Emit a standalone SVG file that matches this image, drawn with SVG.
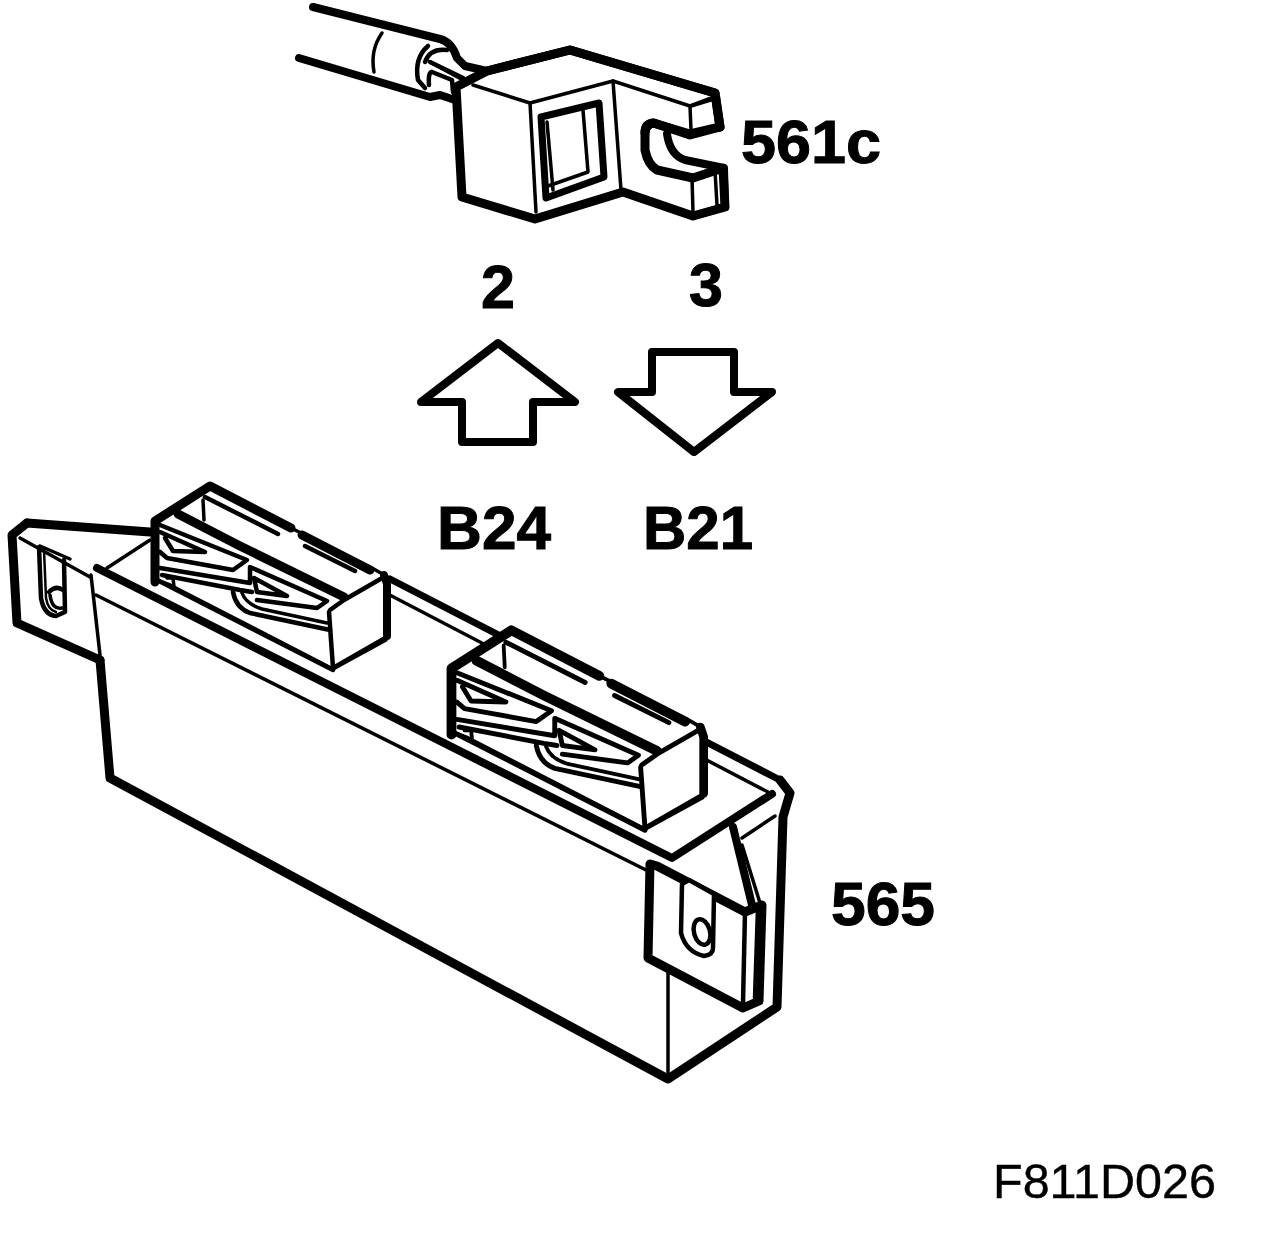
<svg xmlns="http://www.w3.org/2000/svg" width="1264" height="1234" viewBox="0 0 1264 1234">
<style>
.l{fill:none;stroke:#000;stroke-linejoin:round;stroke-linecap:round}
.w{fill:#fff;stroke:#000;stroke-linejoin:round;stroke-linecap:round}
.t2{stroke-width:2.5}.t3{stroke-width:3.5}.t4{stroke-width:4.5}.t6{stroke-width:7}.t7{stroke-width:8}.t8{stroke-width:9}
.lab{font-family:"Liberation Sans",Arial,sans-serif;font-weight:700;font-size:61px;fill:#000;stroke:#000;stroke-width:1}
.code{font-family:"Liberation Sans",Arial,sans-serif;font-size:48.5px;fill:#000;stroke:#000;stroke-width:.4}
</style>
<defs>
<g id="conn">
<path class="w t3" d="M157,522 L210,487 L293,529 L372,568 L386,576 L386,640 L333,669 L170,585 L157,580Z"/>
<path class="l t8" d="M155,582 L155,521 L210,486 L291,528"/>
<path class="l t8" d="M302,535 L370,570"/>
<path class="l t8" d="M178,514 L240,546 L344,597"/>
<path class="l t4" d="M330,610 L344,600 L384,577"/>
<path class="l t7" d="M384,575 L387,584 L387,636"/>
<path class="l t4" d="M205,497 L278,534 M305,546 L355,571"/>
<path class="l t3" d="M203,500 L204,520"/>
<path class="l t4" d="M329,612 L333,668 L387,637"/>
<path class="l t4" d="M157,580 L333,670"/>
<path class="l t4" d="M160,525 L247,560 L233,570 L167,558 L160,552"/>
<path class="l t4" d="M160,532 L205,552 L173,551 L165,538"/>
<path class="l t4" d="M160,568 L250,583 L250,567 L327,601 L317,608 L257,600"/>
<path class="l t4" d="M162,575 L240,590 L252,592"/>
<path class="l t4" d="M254,578 L287,596 L257,592Z"/>
<path class="l t4" d="M233,592 Q236,608 250,613 L330,630"/>
<path class="l t3" d="M242,593 Q246,604 262,609 L327,623"/>
<path class="l t3" d="M167,578 L173,578 L174,587"/>
</g>
</defs>
<g id="node-561c">
<path class="l t7" d="M313,7 L440,39 Q452,42 457,58 L465,66 L487,71"/>
<path class="l t7" d="M299,58 L430,97 L440,95 L455,100"/>
<path class="l t3" d="M382,33 Q370,50 374,72"/>
<path class="l t4" d="M428,46 Q414,58 418,80 L425,88"/>
<path class="l t4" d="M447,50 Q430,48 425,62 M430,62 L463,78 M432,72 Q428,72 429,85 M432,72 L452,80 L453,92"/>
<path class="l t3" d="M463,80 L430,62"/>
<path class="w t8" d="M487,71 L570,50 L715,93 L720,127 L690,134 L653,123 Q645,124 645,133 L645,150 Q648,165 657,170 L693,178 L723,168 L725,207 L693,216 L623,192 L535,219 L462,197 L456,87 Z"/>
<path class="w" style="stroke:none" d="M670,126 L688,134 L707,141 L678,160 Z"/>
<path class="w" style="stroke:none" d="M668,133 L725,132 L723,166 L690,160 Z"/>
<path class="l t8" d="M487,71 L570,50 L715,93 L720,127 L690,135 L654,123 Q645,124 645,133"/>
<path class="l t7" d="M667,134 Q670,155 685,160 L724,168 L725,207 L693,216"/>
<path class="l t3" d="M473,85 L530,103 L613,81 L690,106 L714,97"/>
<path class="l t3" d="M530,103 L536,212 M613,81 L621,190 M690,106 L691,130 M691,106 L714,99"/>
<path class="l t3" d="M646,130 Q646,165 657,170 L692,178 L693,212 M692,178 L715,171 L717,205"/>
<path class="l t6" d="M541,117 L599,103 L604,177 L546,198 Z"/>
<path class="l t3" d="M583,110 L588,172 L548,186"/>
<path class="l t3" d="M547,122 L553,190"/>
</g>
<text class="lab" x="741" y="163" textLength="140" lengthAdjust="spacingAndGlyphs">561c</text>
<text class="lab" x="481" y="308">2</text>
<text class="lab" x="689" y="306">3</text>
<g id="arrows">
<path class="w t7" d="M498,343 L575,402 L533,402 L533,442 L462,442 L462,402 L421,402 Z"/>
<path class="w t7" d="M652,352 L734,352 L734,392 L772,392 L694,452 L618,392 L652,392 Z"/>
</g>
<text class="lab" x="437" y="549" textLength="114" lengthAdjust="spacingAndGlyphs">B24</text>
<text class="lab" x="643" y="549" textLength="110" lengthAdjust="spacingAndGlyphs">B21</text>
<g id="node-565">
<path class="l t8" d="M100,660 L110,778 L668,1079 L777,1007 L783,817 L790,793 L780,780"/>
<path class="l t3" d="M668,972 L668,1076"/>
<path class="l t7" d="M97,568 L672,858 L772,794"/>
<path class="l t3" d="M96,595 L650,872"/>
<path class="l t3" d="M107,568 L150,540"/>
<path class="l t6" d="M390,579 L780,780"/>
<path class="l t3" d="M384,592 L768,792"/>
<path class="l t3" d="M742,838 L775,816"/>
<path class="l t3" d="M91,575 L100,655"/>
<path class="l t8" d="M27,523 L150,532"/>
<path class="l t8" d="M27,523 L12,535 L17,623 L100,660"/>
<path class="l t3" d="M20,538 L90,577"/>
<path class="l t3" d="M40,546 L70,559"/>
<path class="l t4" d="M39,547 L41,598 Q44,615 56,616 L65,612 L64,560"/>
<path class="l t2" d="M44,550 L46,598 Q48,610 56,612"/>
<path class="l t4" d="M49,592 Q56,585 63,590"/>
<path class="l t3" d="M50,595 Q52,610 62,608"/>
<path class="l t7" d="M733,827 L752,905"/>
<path class="l t3" d="M742,845 L760,903"/>
<path class="w t8" d="M650,864 L648,958 L743,1008 L759,1001 L762,905 L745,912 L657,866 Z"/>
<path class="l t4" d="M745,912 L743,1003"/>
<path class="l t2" d="M757,908 L754,998"/>
<path class="l t3" d="M685,880 L718,895"/>
<path class="w t4" d="M682,884 L681,933 Q686,952 704,956 Q713,955 713,948 L714,894 L689,880 Z"/>
<ellipse class="w t4" cx="702" cy="932" rx="8" ry="13" transform="rotate(-15 702 932)"/>
<use href="#conn"/>
<use href="#conn" transform="matrix(1.087,0,0,1.087,283,102)"/>
</g>
<text class="lab" x="831" y="925" textLength="104" lengthAdjust="spacingAndGlyphs">565</text>
<text class="code" x="993" y="1198">F811D026</text>
</svg>
